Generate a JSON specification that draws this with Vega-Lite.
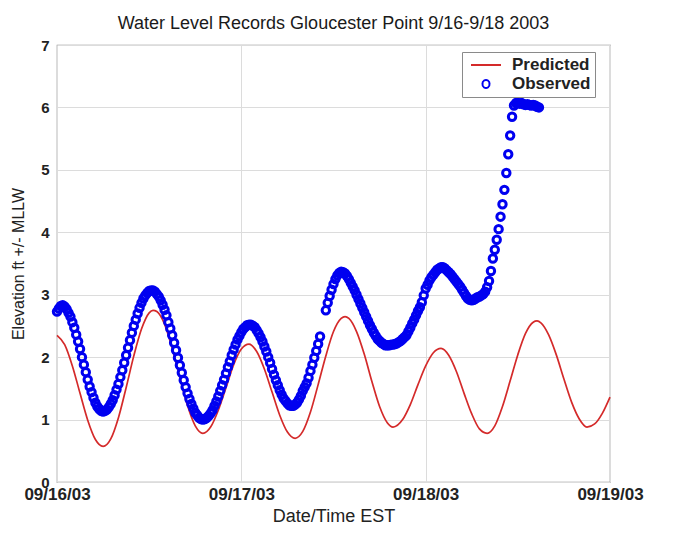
{
  "$schema": "https://vega.github.io/schema/vega-lite/v6.json",
  "width": 553,
  "height": 437,
  "autosize": {"type": "none"},
  "padding": {"left": 57, "top": 45, "right": 64, "bottom": 59},
  "background": "white",
  "title": {"text": "Water Level Records Gloucester Point 9/16-9/18 2003", "font": "Liberation Sans", "fontSize": 18, "fontWeight": "normal", "color": "#1a1a1a", "offset": 5, "anchor": "middle"},
  "datasets": {
    "predicted": [
      {"hour": 0, "level": 2.35}, {"hour": 1, "level": 2.2}, {"hour": 2, "level": 1.86}, {"hour": 3, "level": 1.42}, {"hour": 4, "level": 0.99}, {"hour": 5, "level": 0.68}, {"hour": 6, "level": 0.57}, {"hour": 7, "level": 0.69}, {"hour": 8, "level": 1.03}, {"hour": 9, "level": 1.51}, {"hour": 10, "level": 2.02}, {"hour": 11, "level": 2.45}, {"hour": 12, "level": 2.71}, {"hour": 12.5, "level": 2.75}, {"hour": 13, "level": 2.73}, {"hour": 14, "level": 2.53}, {"hour": 15, "level": 2.14}, {"hour": 16, "level": 1.67}, {"hour": 17, "level": 1.22}, {"hour": 18, "level": 0.9}, {"hour": 19, "level": 0.78}, {"hour": 20, "level": 0.88}, {"hour": 21, "level": 1.15}, {"hour": 22, "level": 1.51}, {"hour": 23, "level": 1.88}, {"hour": 24, "level": 2.13}, {"hour": 25, "level": 2.21}, {"hour": 26, "level": 2.09}, {"hour": 27, "level": 1.81}, {"hour": 28, "level": 1.44}, {"hour": 29, "level": 1.07}, {"hour": 30, "level": 0.8}, {"hour": 31, "level": 0.7}, {"hour": 32, "level": 0.81}, {"hour": 33, "level": 1.12}, {"hour": 34, "level": 1.56}, {"hour": 35, "level": 2.02}, {"hour": 36, "level": 2.41}, {"hour": 37, "level": 2.62}, {"hour": 37.5, "level": 2.65}, {"hour": 38, "level": 2.62}, {"hour": 39, "level": 2.41}, {"hour": 40, "level": 2.05}, {"hour": 41, "level": 1.61}, {"hour": 42, "level": 1.21}, {"hour": 43, "level": 0.95}, {"hour": 43.75, "level": 0.88}, {"hour": 45, "level": 1.0}, {"hour": 46, "level": 1.24}, {"hour": 47, "level": 1.56}, {"hour": 48, "level": 1.86}, {"hour": 49, "level": 2.07}, {"hour": 50, "level": 2.14}, {"hour": 51, "level": 2.03}, {"hour": 52, "level": 1.77}, {"hour": 53, "level": 1.42}, {"hour": 54, "level": 1.09}, {"hour": 55, "level": 0.85}, {"hour": 56, "level": 0.78}, {"hour": 57, "level": 0.9}, {"hour": 58, "level": 1.21}, {"hour": 59, "level": 1.62}, {"hour": 60, "level": 2.04}, {"hour": 61, "level": 2.38}, {"hour": 62, "level": 2.56}, {"hour": 62.5, "level": 2.58}, {"hour": 63, "level": 2.55}, {"hour": 64, "level": 2.36}, {"hour": 65, "level": 2.04}, {"hour": 66, "level": 1.65}, {"hour": 67, "level": 1.28}, {"hour": 68, "level": 1.01}, {"hour": 69, "level": 0.88}, {"hour": 70, "level": 0.93}, {"hour": 71, "level": 1.1}, {"hour": 72, "level": 1.36}
    ],
    "observed": [
      {"hour": 0, "level": 2.73}, {"hour": 0.25, "level": 2.78}, {"hour": 0.5, "level": 2.82}, {"hour": 0.75, "level": 2.83}, {"hour": 1, "level": 2.81}, {"hour": 1.25, "level": 2.77}, {"hour": 1.5, "level": 2.71}, {"hour": 1.75, "level": 2.65}, {"hour": 2, "level": 2.56}, {"hour": 2.25, "level": 2.47}, {"hour": 2.5, "level": 2.36}, {"hour": 2.75, "level": 2.25}, {"hour": 3, "level": 2.13}, {"hour": 3.25, "level": 2.0}, {"hour": 3.5, "level": 1.88}, {"hour": 3.75, "level": 1.76}, {"hour": 4, "level": 1.64}, {"hour": 4.25, "level": 1.53}, {"hour": 4.5, "level": 1.44}, {"hour": 4.75, "level": 1.35}, {"hour": 5, "level": 1.27}, {"hour": 5.25, "level": 1.21}, {"hour": 5.5, "level": 1.17}, {"hour": 5.75, "level": 1.14}, {"hour": 6, "level": 1.13},
      {"hour": 6.25, "level": 1.14}, {"hour": 6.5, "level": 1.16}, {"hour": 6.75, "level": 1.2}, {"hour": 7, "level": 1.25}, {"hour": 7.25, "level": 1.31}, {"hour": 7.5, "level": 1.39}, {"hour": 7.75, "level": 1.48}, {"hour": 8, "level": 1.57}, {"hour": 8.25, "level": 1.68}, {"hour": 8.5, "level": 1.79}, {"hour": 8.75, "level": 1.91}, {"hour": 9, "level": 2.03}, {"hour": 9.25, "level": 2.15}, {"hour": 9.5, "level": 2.27}, {"hour": 9.75, "level": 2.39}, {"hour": 10, "level": 2.5}, {"hour": 10.25, "level": 2.6}, {"hour": 10.5, "level": 2.7}, {"hour": 10.75, "level": 2.79}, {"hour": 11, "level": 2.87}, {"hour": 11.25, "level": 2.94}, {"hour": 11.5, "level": 2.99}, {"hour": 11.75, "level": 3.03}, {"hour": 12, "level": 3.06}, {"hour": 12.25, "level": 3.07},
      {"hour": 12.5, "level": 3.07}, {"hour": 12.75, "level": 3.05}, {"hour": 13, "level": 3.01}, {"hour": 13.25, "level": 2.97}, {"hour": 13.5, "level": 2.91}, {"hour": 13.75, "level": 2.84}, {"hour": 14, "level": 2.76}, {"hour": 14.25, "level": 2.67}, {"hour": 14.5, "level": 2.56}, {"hour": 14.75, "level": 2.46}, {"hour": 15, "level": 2.35}, {"hour": 15.25, "level": 2.23}, {"hour": 15.5, "level": 2.11}, {"hour": 15.75, "level": 1.99}, {"hour": 16, "level": 1.87}, {"hour": 16.25, "level": 1.75}, {"hour": 16.5, "level": 1.63}, {"hour": 16.75, "level": 1.52}, {"hour": 17, "level": 1.42}, {"hour": 17.25, "level": 1.33}, {"hour": 17.5, "level": 1.25}, {"hour": 17.75, "level": 1.18}, {"hour": 18, "level": 1.11}, {"hour": 18.25, "level": 1.07}, {"hour": 18.5, "level": 1.03}, {"hour": 18.75, "level": 1.01}, {"hour": 19, "level": 1.0},
      {"hour": 19.25, "level": 1.01}, {"hour": 19.5, "level": 1.03}, {"hour": 19.75, "level": 1.06}, {"hour": 20, "level": 1.1}, {"hour": 20.25, "level": 1.15}, {"hour": 20.5, "level": 1.22}, {"hour": 20.75, "level": 1.29}, {"hour": 21, "level": 1.37}, {"hour": 21.25, "level": 1.46}, {"hour": 21.5, "level": 1.55}, {"hour": 21.75, "level": 1.64}, {"hour": 22, "level": 1.74}, {"hour": 22.25, "level": 1.84}, {"hour": 22.5, "level": 1.93}, {"hour": 22.75, "level": 2.03}, {"hour": 23, "level": 2.12}, {"hour": 23.25, "level": 2.2}, {"hour": 23.5, "level": 2.28}, {"hour": 23.75, "level": 2.34}, {"hour": 24, "level": 2.4}, {"hour": 24.25, "level": 2.45}, {"hour": 24.5, "level": 2.48}, {"hour": 24.75, "level": 2.51}, {"hour": 25, "level": 2.52},
      {"hour": 25.25, "level": 2.52}, {"hour": 25.5, "level": 2.5}, {"hour": 25.75, "level": 2.48}, {"hour": 26, "level": 2.43}, {"hour": 26.25, "level": 2.38}, {"hour": 26.5, "level": 2.32}, {"hour": 26.75, "level": 2.25}, {"hour": 27, "level": 2.17}, {"hour": 27.25, "level": 2.09}, {"hour": 27.5, "level": 2.0}, {"hour": 27.75, "level": 1.91}, {"hour": 28, "level": 1.81}, {"hour": 28.25, "level": 1.72}, {"hour": 28.5, "level": 1.63}, {"hour": 28.75, "level": 1.55}, {"hour": 29, "level": 1.47}, {"hour": 29.25, "level": 1.4}, {"hour": 29.5, "level": 1.34}, {"hour": 29.75, "level": 1.3}, {"hour": 30, "level": 1.26}, {"hour": 30.25, "level": 1.23}, {"hour": 30.5, "level": 1.22},
      {"hour": 30.75, "level": 1.22}, {"hour": 31, "level": 1.24}, {"hour": 31.25, "level": 1.27}, {"hour": 31.5, "level": 1.32}, {"hour": 31.75, "level": 1.38}, {"hour": 32, "level": 1.46}, {"hour": 32.25, "level": 1.52}, {"hour": 32.5, "level": 1.58}, {"hour": 32.75, "level": 1.67}, {"hour": 33, "level": 1.78}, {"hour": 33.25, "level": 1.88}, {"hour": 33.5, "level": 1.99}, {"hour": 33.75, "level": 2.1}, {"hour": 34, "level": 2.21}, {"hour": 34.25, "level": 2.33},
      {"hour": 35, "level": 2.75}, {"hour": 35.25, "level": 2.87}, {"hour": 35.5, "level": 2.98}, {"hour": 35.75, "level": 3.08}, {"hour": 36, "level": 3.17}, {"hour": 36.25, "level": 3.25}, {"hour": 36.5, "level": 3.31}, {"hour": 36.75, "level": 3.35}, {"hour": 37, "level": 3.37},
      {"hour": 37.25, "level": 3.36}, {"hour": 37.5, "level": 3.34}, {"hour": 37.75, "level": 3.3}, {"hour": 38, "level": 3.25}, {"hour": 38.25, "level": 3.19}, {"hour": 38.5, "level": 3.13}, {"hour": 38.75, "level": 3.07}, {"hour": 39, "level": 3.0}, {"hour": 39.25, "level": 2.93}, {"hour": 39.5, "level": 2.86}, {"hour": 39.75, "level": 2.79}, {"hour": 40, "level": 2.72}, {"hour": 40.25, "level": 2.65}, {"hour": 40.5, "level": 2.58}, {"hour": 40.75, "level": 2.51}, {"hour": 41, "level": 2.45}, {"hour": 41.25, "level": 2.39}, {"hour": 41.5, "level": 2.34}, {"hour": 41.75, "level": 2.29}, {"hour": 42, "level": 2.26}, {"hour": 42.25, "level": 2.23}, {"hour": 42.5, "level": 2.21}, {"hour": 42.75, "level": 2.19}, {"hour": 43, "level": 2.19}, {"hour": 43.25, "level": 2.19}, {"hour": 43.5, "level": 2.2}, {"hour": 43.75, "level": 2.2}, {"hour": 44, "level": 2.21}, {"hour": 44.25, "level": 2.22}, {"hour": 44.5, "level": 2.24}, {"hour": 44.75, "level": 2.26}, {"hour": 45, "level": 2.29}, {"hour": 45.25, "level": 2.32}, {"hour": 45.5, "level": 2.35}, {"hour": 45.75, "level": 2.41}, {"hour": 46, "level": 2.47}, {"hour": 46.25, "level": 2.54}, {"hour": 46.5, "level": 2.6}, {"hour": 46.75, "level": 2.67}, {"hour": 47, "level": 2.74}, {"hour": 47.25, "level": 2.8}, {"hour": 47.5, "level": 2.88}, {"hour": 47.75, "level": 2.99}, {"hour": 48, "level": 3.1}, {"hour": 48.25, "level": 3.16}, {"hour": 48.5, "level": 3.23}, {"hour": 48.75, "level": 3.28}, {"hour": 49, "level": 3.32}, {"hour": 49.25, "level": 3.36}, {"hour": 49.5, "level": 3.4}, {"hour": 49.75, "level": 3.42}, {"hour": 50, "level": 3.44}, {"hour": 50.25, "level": 3.44}, {"hour": 50.5, "level": 3.42}, {"hour": 50.75, "level": 3.39}, {"hour": 51, "level": 3.36}, {"hour": 51.25, "level": 3.33}, {"hour": 51.5, "level": 3.29}, {"hour": 51.75, "level": 3.25}, {"hour": 52, "level": 3.21}, {"hour": 52.25, "level": 3.17}, {"hour": 52.5, "level": 3.13}, {"hour": 52.75, "level": 3.08}, {"hour": 53, "level": 3.03}, {"hour": 53.25, "level": 2.98}, {"hour": 53.5, "level": 2.94}, {"hour": 53.75, "level": 2.92}, {"hour": 54, "level": 2.91}, {"hour": 54.25, "level": 2.92}, {"hour": 54.5, "level": 2.94}, {"hour": 54.75, "level": 2.96}, {"hour": 55, "level": 2.97}, {"hour": 55.25, "level": 2.99}, {"hour": 55.5, "level": 3.01}, {"hour": 55.75, "level": 3.05}, {"hour": 56, "level": 3.12}, {"hour": 56.25, "level": 3.22}, {"hour": 56.5, "level": 3.38}, {"hour": 56.75, "level": 3.58}, {"hour": 57, "level": 3.72}, {"hour": 57.25, "level": 3.88}, {"hour": 57.5, "level": 4.05}, {"hour": 57.75, "level": 4.25}, {"hour": 58, "level": 4.45}, {"hour": 58.25, "level": 4.68}, {"hour": 58.5, "level": 4.95}, {"hour": 58.75, "level": 5.25}, {"hour": 59, "level": 5.55}, {"hour": 59.25, "level": 5.85}, {"hour": 59.5, "level": 6.03}, {"hour": 59.75, "level": 6.07}, {"hour": 60, "level": 6.07}, {"hour": 60.25, "level": 6.06}, {"hour": 60.5, "level": 6.07}, {"hour": 60.75, "level": 6.05}, {"hour": 61, "level": 6.04}, {"hour": 61.25, "level": 6.05}, {"hour": 61.5, "level": 6.04}, {"hour": 61.75, "level": 6.03}, {"hour": 62, "level": 6.04}, {"hour": 62.25, "level": 6.03}, {"hour": 62.5, "level": 6.01}, {"hour": 62.75, "level": 6.0}
    ]
  },
  "layer": [
    {
      "data": {"name": "predicted"},
      "mark": {"type": "line", "interpolate": "monotone", "strokeWidth": 1.7},
      "encoding": {
        "x": {"field": "hour", "type": "quantitative", "scale": {"domain": [0, 72], "nice": false, "zero": false},
          "axis": {"title": "Date/Time EST", "values": [0, 24, 48, 72], "labelExpr": "datum.value == 0 ? '09/16/03' : datum.value == 24 ? '09/17/03' : datum.value == 48 ? '09/18/03' : '09/19/03'", "labelFontSize": 17, "labelFontWeight": "bold", "labelPadding": 4, "titlePadding": 5, "titleFontSize": 18}},
        "y": {"field": "level", "type": "quantitative", "scale": {"domain": [0, 7], "nice": false},
          "axis": {"title": "Elevation ft +/- MLLW", "values": [0, 1, 2, 3, 4, 5, 6, 7], "format": "d", "labelFontSize": 15, "labelFontWeight": "bold", "labelPadding": 8, "titlePadding": 14, "titleFontSize": 16}},
        "color": {"datum": "Predicted", "scale": {"domain": ["Predicted", "Observed"], "range": ["#d42a2a", "#0000f0"]},
          "legend": {"title": null, "orient": "none", "legendX": 405, "legendY": 7, "padding": 4, "rowPadding": 2, "symbolSize": 256, "labelOffset": 28, "labelFont": "Liberation Sans", "labelFontSize": 17, "labelFontWeight": "bold", "labelColor": "#222", "strokeColor": "#8a8a8a", "fillColor": "white", "symbolStrokeWidth": 2,
            "encode": {"symbols": {"update": {
              "shape": {"signal": "datum.value === 'Predicted' ? 'M-0.5,0H3.25' : 'M1.81,0A0.44,0.44 0 1,1 0.94,0A0.44,0.44 0 1,1 1.81,0Z'"},
              "stroke": {"signal": "datum.value === 'Predicted' ? '#d42a2a' : '#0000f0'"},
              "fill": {"value": "transparent"},
              "strokeWidth": {"value": 2},
              "size": {"value": 256}}}}}}
      }
    },
    {
      "data": {"name": "observed"},
      "mark": {"type": "point", "filled": false, "size": 55, "strokeWidth": 3, "opacity": 1},
      "encoding": {
        "x": {"field": "hour", "type": "quantitative"},
        "y": {"field": "level", "type": "quantitative"},
        "color": {"datum": "Observed", "legend": null}
      }
    }
  ],
  "config": {
    "font": "Liberation Sans",
    "view": {"stroke": "#8a8a8a", "strokeWidth": 1.2},
    "axis": {"labelFont": "Liberation Sans", "titleFont": "Liberation Sans", "labelColor": "#222", "titleColor": "#222", "titleFontWeight": "normal", "ticks": false, "domain": false, "grid": true, "gridColor": "#dcdcdc", "gridWidth": 1, "labelFlush": false, "labelOverlap": false, "labelBound": false}
  }
}
